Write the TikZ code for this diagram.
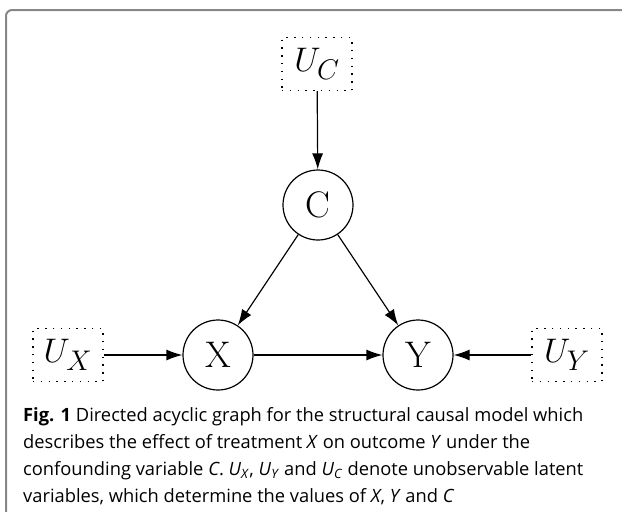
\documentclass[tikz,border=0pt]{standalone}
\usepackage{graphicx}
\usepackage{fontspec}
\setmainfont{Open Sans}
\newfontfamily\lmr{Latin Modern Roman}
\usetikzlibrary{arrows.meta}
\newcommand{\bigmath}[1]{\scalebox{1.37}{\fontsize{24.88}{30}\selectfont$#1$}}
\tikzset{
  var/.style={circle,draw,line width=1.2pt,minimum size=70pt,inner sep=0pt,font=\lmr\fontsize{37}{40}\selectfont},
  latent/.style={draw,dash pattern=on 1.4pt off 6.4pt,line width=1.4pt,minimum height=53pt,minimum width=70pt,inner sep=4pt},
  edge/.style={line width=1.2pt,-{Latex[length=16pt,width=11pt]}},
  frame/.style={draw=black!47,line width=2pt,rounded corners=6pt}
}
\begin{document}
\begin{tikzpicture}[x=1pt,y=-1pt]
\useasboundingbox (0,0) rectangle (622,512);
\draw[frame] (6,520) -- (6,10) -- (630,10);
\node[latent] (uc) at (317,64) {\bigmath{U_C}};
\node[var] (c) at (318,205) {C};
\node[var] (x) at (218,355) {X};
\node[var] (y) at (418,355) {Y};
\node[latent] (ux) at (68,355) {\bigmath{U_X}};
\node[latent] (uy) at (567,355) {\bigmath{U_Y}};
\draw[edge] (uc) -- (c);
\draw[edge] (c) -- (x);
\draw[edge] (c) -- (y);
\draw[edge] (x) -- (y);
\draw[edge] (ux) -- (x);
\draw[edge] (uy) -- (y);
\node[anchor=north west,align=left,inner sep=0pt,font=\fontsize{18.3}{27}\selectfont] (cap) at (23,407)
{\textbf{Fig. 1} Directed acyclic graph for the structural causal model which\\
describes the effect of treatment \textit{X} on outcome \textit{Y} under the\\
confounding variable \textit{C}. \textit{U}\textsubscript{\textit{X}}, \textit{U}\textsubscript{\textit{Y}} and \textit{U}\textsubscript{\textit{C}} denote unobservable latent\\
variables, which determine the values of \textit{X}, \textit{Y} and \textit{C}};
\end{tikzpicture}
\end{document}
